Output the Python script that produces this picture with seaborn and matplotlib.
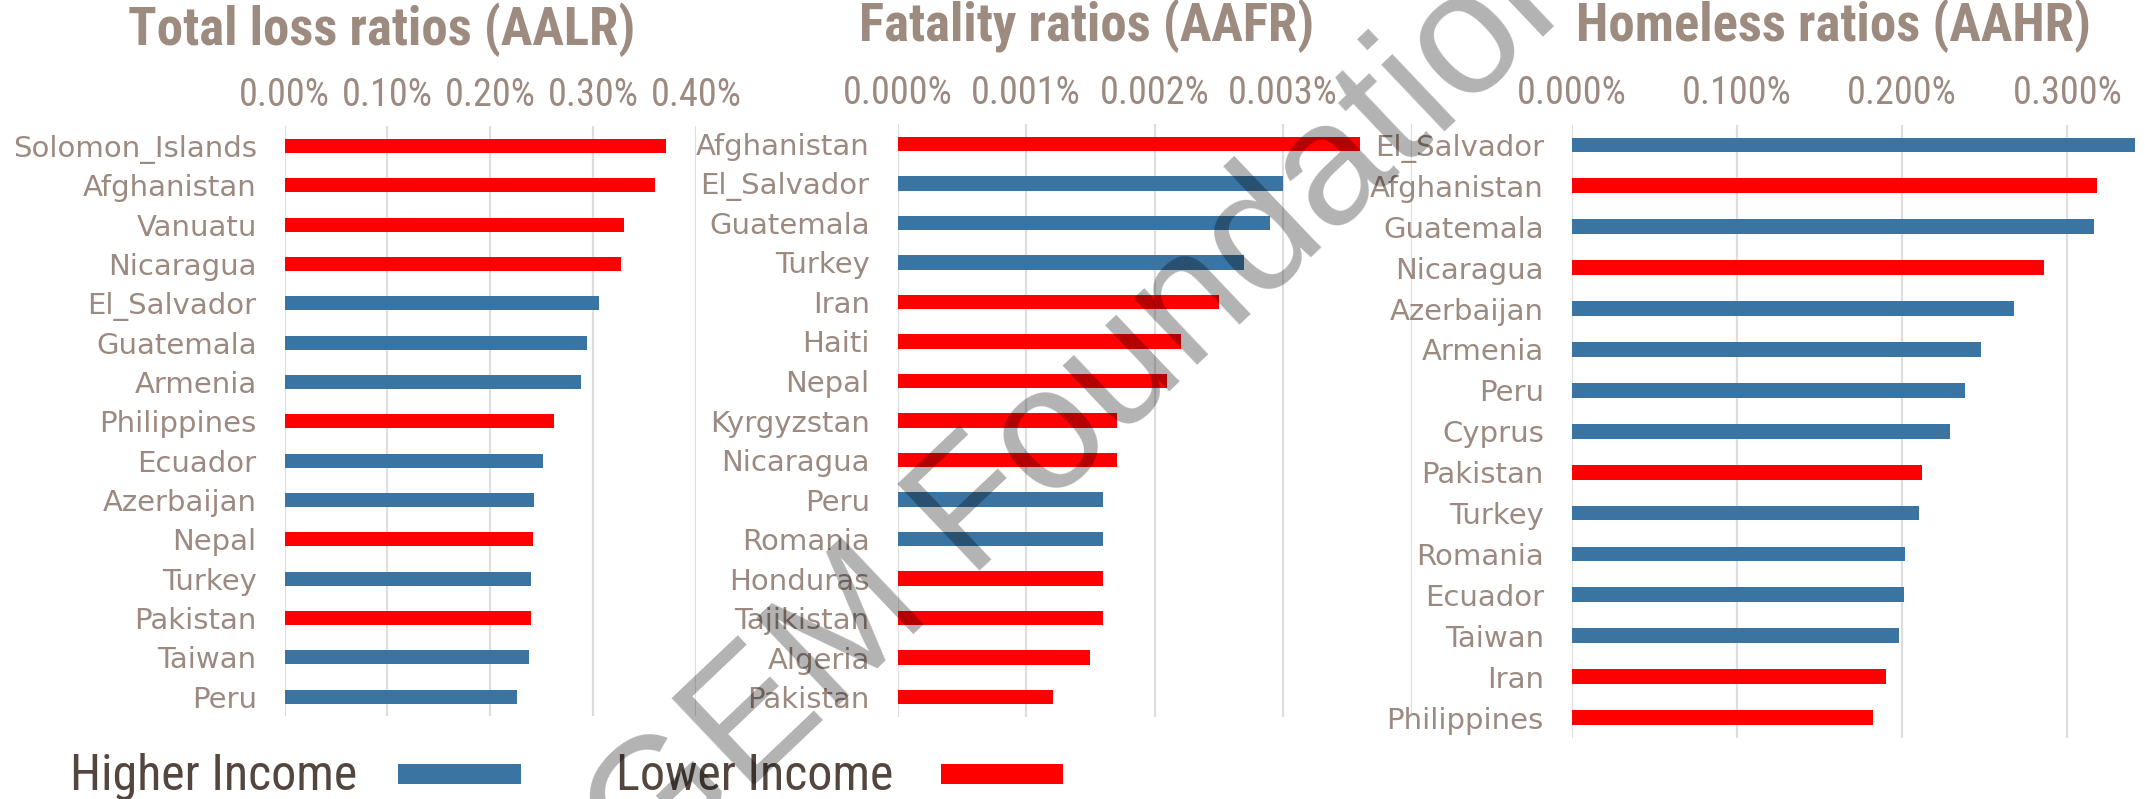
import numpy as np
import pandas as pd
import matplotlib
matplotlib.use("Agg")
import matplotlib.pyplot as plt
import seaborn as sns
from matplotlib import font_manager as fm
from matplotlib.patches import Rectangle

# ---------------- data (values in percent) ----------------
aalr_countries = ["Solomon_Islands", "Afghanistan", "Vanuatu", "Nicaragua", "El_Salvador",
                  "Guatemala", "Armenia", "Philippines", "Ecuador", "Azerbaijan",
                  "Nepal", "Turkey", "Pakistan", "Taiwan", "Peru"]
aalr_values = [0.371, 0.360, 0.330, 0.327, 0.306, 0.294, 0.288, 0.262, 0.251, 0.243,
               0.242, 0.240, 0.240, 0.238, 0.226]
aalr_income = ["Lower", "Lower", "Lower", "Lower", "Higher", "Higher", "Higher", "Lower",
               "Higher", "Higher", "Lower", "Higher", "Lower", "Higher", "Higher"]

aafr_countries = ["Afghanistan", "El_Salvador", "Guatemala", "Turkey", "Iran", "Haiti",
                  "Nepal", "Kyrgyzstan", "Nicaragua", "Peru", "Romania", "Honduras",
                  "Tajikistan", "Algeria", "Pakistan"]
aafr_values = [0.00360, 0.00300, 0.00290, 0.00270, 0.00250, 0.00221, 0.00210, 0.00171,
               0.00171, 0.00160, 0.00160, 0.00160, 0.00160, 0.00150, 0.00121]
aafr_income = ["Lower", "Higher", "Higher", "Higher", "Lower", "Lower", "Lower", "Lower",
               "Lower", "Higher", "Higher", "Lower", "Lower", "Lower", "Lower"]

aahr_countries = ["El_Salvador", "Afghanistan", "Guatemala", "Nicaragua", "Azerbaijan",
                  "Armenia", "Peru", "Cyprus", "Pakistan", "Turkey", "Romania", "Ecuador",
                  "Taiwan", "Iran", "Philippines"]
aahr_values = [0.341, 0.318, 0.316, 0.286, 0.268, 0.248, 0.238, 0.229, 0.212, 0.210,
               0.202, 0.201, 0.198, 0.190, 0.1825]
aahr_income = ["Higher", "Lower", "Higher", "Lower", "Higher", "Higher", "Higher", "Higher",
               "Lower", "Higher", "Higher", "Higher", "Higher", "Lower", "Lower"]

titles = ["Total loss ratios (AALR)", "Fatality ratios (AAFR)", "Homeless ratios (AAHR)"]
ticks1 = [0.0, 0.1, 0.2, 0.3, 0.4]
ticks2 = [0.0, 0.001, 0.002, 0.003, 0.004]
ticks3 = [0.0, 0.1, 0.2, 0.3]
income_labels = {"Higher": "Higher Income", "Lower": "Lower Income"}
legend_labels = ["Higher Income", "Lower Income"]

# ---------------- style ----------------
BLUE = "#3A74A2"
RED = "#FF0000"
GRID = "#E2DDDA"
LABEL_C = "#9C8A80"
TITLE_C = "#9E8B80"
LEG_C = "#53463F"

sns.set_theme(style="white")
plt.rcParams["font.family"] = ["DejaVu Sans"]

names = {f.name for f in fm.fontManager.ttflist}
narrow = None
for c in ["Liberation Sans Narrow", "Arial Narrow", "Roboto Condensed", "Open Sans Condensed"]:
    if c in names:
        narrow = c
        break
if narrow is not None:
    NP = dict(family=narrow)
elif any(f.name == "DejaVu Sans" and str(f.stretch) in ("condensed", "semi-condensed")
         for f in fm.fontManager.ttflist):
    NP = dict(family="DejaVu Sans", stretch="condensed")
else:
    NP = dict(family="Liberation Sans")

W, H = 2145, 799
fig = plt.figure(figsize=(W / 100, H / 100), dpi=100)
fig.patch.set_facecolor("white")

def px_axes(left, right, top, bottom):
    return fig.add_axes([left / W, 1 - bottom / H, (right - left) / W, (bottom - top) / H])

panels = [
    (aalr_countries, aalr_values, aalr_income, ticks1, 0.4, "{:.2f}%", (284.5, 696.0, 126.3, 716.4), (382, 30)),
    (aafr_countries, aafr_values, aafr_income, ticks2, 0.004, "{:.3f}%", (897.5, 1411.5, 124.2, 716.8), (1087, 26)),
    (aahr_countries, aahr_values, aahr_income, ticks3, 0.347, "{:.3f}%", (1571.6, 2145.0, 124.5, 738.0), (1834, 26)),
]

palette = {"Higher Income": BLUE, "Lower Income": RED}

for i, (cats, vals, inc, ticks, xmax, fmt, box, tpos) in enumerate(panels):
    ax = px_axes(*box)
    df = pd.DataFrame({"country": cats, "value": vals,
                       "income": [income_labels[v] for v in inc]})
    sns.barplot(data=df, x="value", y="country", hue="income", order=cats,
                palette=palette, dodge=False, width=0.36, saturation=1,
                orient="h", legend=False, ax=ax, linewidth=0)
    ax.set_xlim(0, xmax)
    ax.set_ylim(len(cats) - 0.5, -0.5)
    ax.xaxis.tick_top()
    labels = [fmt.format(t) for t in ticks]
    if i == 1:
        labels[-1] = ""
    ax.set_xticks(ticks, labels=labels, color=LABEL_C, fontsize=27.5, **NP)
    ax.tick_params(axis="x", length=0, pad=9)
    ax.tick_params(axis="y", length=0, pad=20, labelsize=21, labelcolor=LABEL_C)
    ax.set_xlabel("")
    ax.set_ylabel("")
    ax.grid(axis="x", color=GRID, linewidth=1.6)
    ax.grid(axis="y", visible=False)
    ax.set_axisbelow(True)
    for s in ax.spines.values():
        s.set_visible(False)
    ax.set_facecolor("none")
    fig.text(tpos[0] / W, 1 - tpos[1] / H, titles[i], ha="center", va="center",
             fontsize=38, fontweight="bold", color=TITLE_C, **NP)

# legend (label text followed by its colour key)
leg_items = [(legend_labels[0], BLUE, 70, 398, 521), (legend_labels[1], RED, 616, 941, 1063)]
for lab, col, tx, p0, p1 in leg_items:
    fig.text(tx / W, 1 - 790 / H, lab, ha="left", va="baseline", fontsize=36,
             color=LEG_C, **NP)
    fig.patches.append(Rectangle((p0 / W, 1 - 784 / H), (p1 - p0) / W, 20 / H,
                                 transform=fig.transFigure, facecolor=col,
                                 edgecolor="none", zorder=5))

# watermark
fig.text(1095 / W, 1 - 400 / H, "GEM Foundation", rotation=43.5, rotation_mode="anchor",
         ha="center", va="center", fontsize=126, color="black", alpha=0.3,
         family="Liberation Sans", zorder=20)

fig.savefig("out.png", dpi=100, facecolor="white")
